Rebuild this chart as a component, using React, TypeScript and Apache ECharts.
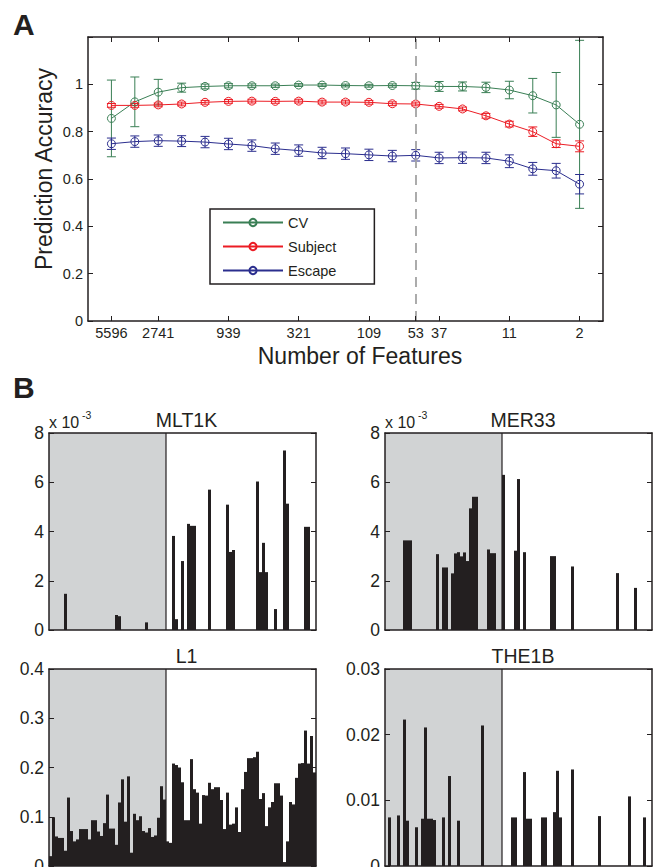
import React, { useEffect, useRef } from 'react';
import * as echarts from 'echarts';

// ---------- Panel A data ----------
const featureTickLabels = ['5596', '', '2741', '', '', '939', '', '', '321', '', '', '109', '', '53', '37', '', '', '11', '', '', '2'];
const cutoffLabel = '53';
const cvAcc = [0.856, 0.926, 0.967, 0.986, 0.991, 0.994, 0.994, 0.994, 0.997, 0.997, 0.995, 0.994, 0.995, 0.994, 0.991, 0.991, 0.987, 0.976, 0.952, 0.913, 0.831];
const cvErr = [0.162, 0.105, 0.054, 0.019, 0.010, 0.009, 0.008, 0.007, 0.006, 0.006, 0.006, 0.006, 0.007, 0.014, 0.021, 0.019, 0.022, 0.037, 0.073, 0.137, 0.355];
const subjectAcc = [0.911, 0.911, 0.913, 0.917, 0.924, 0.928, 0.929, 0.928, 0.929, 0.925, 0.925, 0.924, 0.918, 0.917, 0.907, 0.896, 0.867, 0.832, 0.800, 0.749, 0.738];
const subjectErr = [0.008, 0.008, 0.008, 0.008, 0.008, 0.008, 0.008, 0.008, 0.008, 0.008, 0.008, 0.008, 0.008, 0.008, 0.008, 0.008, 0.010, 0.012, 0.020, 0.016, 0.023];
const escapeAcc = [0.749, 0.758, 0.762, 0.760, 0.756, 0.748, 0.741, 0.728, 0.720, 0.710, 0.707, 0.702, 0.697, 0.700, 0.689, 0.690, 0.689, 0.675, 0.643, 0.635, 0.578];
const escapeErr = [0.024, 0.024, 0.024, 0.023, 0.024, 0.024, 0.024, 0.024, 0.024, 0.024, 0.024, 0.024, 0.024, 0.024, 0.024, 0.024, 0.024, 0.027, 0.027, 0.031, 0.041];

// ---------- Panel B data ----------
const barCount = 89;
const shadedCount = 39;
// [bar index, value x 10^-3]
const mlt1kBars: [number, number][] = [[5, 1.47], [22, 0.61], [23, 0.56], [32, 0.31], [41, 3.82], [42, 0.44], [44, 2.8], [46, 4.31], [47, 4.23], [48, 4.23], [53, 5.7], [59, 5.09], [60, 3.17], [61, 3.25], [69, 6.03], [70, 2.35], [71, 3.54], [72, 2.35], [75, 0.85], [78, 7.29], [79, 5.13], [85, 4.19], [86, 4.19]];
const mer33Bars: [number, number][] = [[6, 3.64], [7, 3.64], [8, 3.64], [17, 3.08], [19, 2.54], [20, 2.54], [22, 2.30], [23, 3.11], [24, 3.16], [25, 2.99], [26, 3.15], [27, 2.80], [28, 4.94], [29, 5.41], [30, 5.41], [34, 3.27], [35, 3.12], [36, 3.12], [39, 6.30], [43, 3.22], [44, 6.13], [46, 3.16], [55, 3.0], [56, 3.0], [62, 2.58], [77, 2.31], [83, 1.71]];
const l1Values = [0.020, 0.099, 0.060, 0.057, 0.057, 0.031, 0.139, 0.071, 0.050, 0.054, 0.075, 0.075, 0.075, 0.054, 0.093, 0.093, 0.070, 0.061, 0.087, 0.145, 0.076, 0.076, 0.043, 0.129, 0.176, 0.090, 0.182, 0.027, 0.106, 0.093, 0.101, 0.071, 0.068, 0.077, 0.059, 0.062, 0.098, 0.162, 0.135,
  0.050, 0.047, 0.208, 0.205, 0.200, 0.170, 0.093, 0.093, 0.217, 0.156, 0.149, 0.086, 0.144, 0.143, 0.169, 0.156, 0.160, 0.160, 0.134, 0.075, 0.149, 0.084, 0.086, 0.119, 0.069, 0.156, 0.191, 0.219, 0.219, 0.221, 0.232, 0.136, 0.148, 0.081, 0.119, 0.130, 0.168, 0.168, 0.143, 0.008, 0.050, 0.130, 0.125, 0.179, 0.208, 0.209, 0.275, 0.208, 0.264, 0.190];
const the1bBars: [number, number][] = [[1, 0.0074], [4, 0.0077], [6, 0.0223], [7, 0.0069], [10, 0.0059], [12, 0.0072], [13, 0.0211], [14, 0.0072], [15, 0.0072], [16, 0.0070], [19, 0.0074], [21, 0.0137], [24, 0.0069], [32, 0.0214], [42, 0.0074], [43, 0.0074], [46, 0.0143], [47, 0.0072], [48, 0.0072], [52, 0.0074], [53, 0.0074], [56, 0.0082], [57, 0.0145], [58, 0.0074], [62, 0.0147], [71, 0.0076], [81, 0.0106], [86, 0.0074]];

const INK = '#231f20';
const FONT = '"Liberation Sans", Arial, Helvetica, sans-serif';
const GREEN = '#3a7f55';
const RED = '#ec1c24';
const BLUE = '#2b2e8e';

function buildOption(): any {
  const xCats = ['', ...featureTickLabels, ''];
  const showCat = (_i: number, v: string) => v !== '';
  const axisLine = { show: true, onZero: false, lineStyle: { color: INK, width: 1.5 } };
  const tick = { show: true, inside: true, length: 5, lineStyle: { color: INK, width: 1 } };

  const panels = [
    { title: 'MLT1K', data: mlt1kBars, max: 8, interval: 2, exp: true, grid: { left: 49, top: 433 } },
    { title: 'MER33', data: mer33Bars, max: 8, interval: 2, exp: true, grid: { left: 385, top: 433 } },
    { title: 'L1', data: l1Values.map((v, i) => [i, v]), max: 0.4, interval: 0.1, exp: false, grid: { left: 49, top: 669 } },
    { title: 'THE1B', data: the1bBars, max: 0.03, interval: 0.01, exp: false, grid: { left: 385, top: 669 } },
  ];

  const grid: any[] = [{ left: 88, top: 37, width: 515, height: 284, containLabel: false, outerBoundsMode: 'none' }];
  const xAxis: any[] = [
    { gridIndex: 0, type: 'category', data: xCats, boundaryGap: false, position: 'bottom', axisLine, axisTick: { ...tick, interval: showCat }, axisLabel: { interval: showCat, fontSize: 14.5, color: INK, fontFamily: FONT, margin: 4 }, splitLine: { show: false }, z: 10 },
    { gridIndex: 0, type: 'category', data: xCats, boundaryGap: false, position: 'top', axisLine, axisTick: { ...tick, interval: showCat }, axisLabel: { show: false }, splitLine: { show: false }, z: 10 },
  ];
  const yAxis: any[] = [
    { gridIndex: 0, type: 'value', min: 0, max: 1.2, interval: 0.2, position: 'left', axisLine, axisTick: tick, axisLabel: { fontSize: 14.5, color: INK, fontFamily: FONT, margin: 5, formatter: (v: number) => (v > 1.0001 ? '' : String(Math.round(v * 10) / 10)) }, splitLine: { show: false }, z: 10 },
    { gridIndex: 0, type: 'value', min: 0, max: 1.2, interval: 0.2, position: 'right', axisLine, axisTick: tick, axisLabel: { show: false }, splitLine: { show: false }, z: 10 },
  ];

  const errSeries = (name: string, vals: number[], errs: number[], color: string) => ({
    type: 'custom', name: name + ' error', xAxisIndex: 0, yAxisIndex: 0, silent: true, z: 3,
    data: vals.map((v, k) => [k + 1, v - errs[k], v + errs[k]]),
    encode: { x: 0, y: [1, 2] },
    renderItem: (_p: any, api: any) => {
      const x = api.value(0);
      const lo = api.coord([x, api.value(1)]);
      const hi = api.coord([x, api.value(2)]);
      const w = 4.5;
      const style = { stroke: color, lineWidth: 1 };
      return {
        type: 'group', children: [
          { type: 'line', shape: { x1: lo[0], y1: lo[1], x2: hi[0], y2: hi[1] }, style },
          { type: 'line', shape: { x1: lo[0] - w, y1: lo[1], x2: lo[0] + w, y2: lo[1] }, style },
          { type: 'line', shape: { x1: hi[0] - w, y1: hi[1], x2: hi[0] + w, y2: hi[1] }, style },
        ],
      };
    },
  });
  const lineSeries = (name: string, vals: number[], color: string, extra: any = {}) => ({
    type: 'line', name, xAxisIndex: 0, yAxisIndex: 0, z: 4,
    data: vals.map((v, k) => [k + 1, v]),
    symbol: 'circle', symbolSize: 8, showSymbol: true,
    lineStyle: { color, width: 1 },
    itemStyle: { color: 'rgba(255,255,255,0)', borderColor: color, borderWidth: 1 },
    emphasis: { disabled: true },
    ...extra,
  });

  const series: any[] = [
    errSeries('CV', cvAcc, cvErr, GREEN),
    lineSeries('CV', cvAcc, GREEN, {
      markLine: {
        silent: true, symbol: ['none', 'none'], label: { show: false },
        lineStyle: { color: '#a3a3a3', type: [10, 7], width: 1.8 },
        data: [{ xAxis: featureTickLabels.indexOf(cutoffLabel) + 1 }],
      },
    }),
    errSeries('Subject', subjectAcc, subjectErr, RED),
    lineSeries('Subject', subjectAcc, RED),
    errSeries('Escape', escapeAcc, escapeErr, BLUE),
    lineSeries('Escape', escapeAcc, BLUE),
  ];

  const barCats = Array.from({ length: barCount }, (_v, i) => String(i + 1));
  const graphic: any[] = [];
  const txt = (text: string, x: number, y: number, fontSize: number, align = 'left', extra: any = {}) => ({
    type: 'text', x, y, silent: true, ...extra,
    style: { text, fontSize, fontFamily: FONT, fill: INK, align, verticalAlign: 'middle', textAlign: align, textVerticalAlign: 'middle', fontWeight: extra.bold ? 'bold' : 'normal' },
  });

  panels.forEach((p, i) => {
    const g = i + 1;
    grid.push({ left: p.grid.left, top: p.grid.top, width: 267, height: 197, containLabel: false, outerBoundsMode: 'none' });
    xAxis.push({ gridIndex: g, type: 'category', data: barCats, position: 'bottom', axisLine, axisTick: { show: false }, axisLabel: { show: false }, splitLine: { show: false }, z: 10 });
    xAxis.push({ gridIndex: g, type: 'category', data: barCats, position: 'top', axisLine, axisTick: { show: false }, axisLabel: { show: false }, splitLine: { show: false }, z: 10 });
    yAxis.push({ gridIndex: g, type: 'value', min: 0, max: p.max, interval: p.interval, position: 'left', axisLine, axisTick: tick, axisLabel: { fontSize: 17.5, color: INK, fontFamily: FONT, margin: 5 }, splitLine: { show: false }, z: 10 });
    yAxis.push({ gridIndex: g, type: 'value', min: 0, max: p.max, interval: p.interval, position: 'right', axisLine, axisTick: tick, axisLabel: { show: false }, splitLine: { show: false }, z: 10 });
    series.push({
      type: 'custom', xAxisIndex: 2 * g, yAxisIndex: 2 * g, silent: true, z: 1,
      data: [[0, 0, shadedCount - 1]],
      encode: { x: [0, 2], y: 1 },
      renderItem: (params: any, api: any) => {
        const bw = api.size([1, 0])[0];
        const x0 = api.coord([api.value(0), 0])[0] - bw / 2;
        const x1 = api.coord([api.value(2), 0])[0] + bw / 2;
        const cs = params.coordSys;
        return {
          type: 'group', children: [
            { type: 'rect', shape: { x: x0, y: cs.y, width: x1 - x0, height: cs.height }, style: { fill: '#d1d3d4' } },
            { type: 'line', shape: { x1, y1: cs.y, x2: x1, y2: cs.y + cs.height }, style: { stroke: INK, lineWidth: 1.2 } },
          ],
        };
      },
    });
    series.push({
      type: 'bar', name: p.title, xAxisIndex: 2 * g, yAxisIndex: 2 * g, silent: true, z: 2,
      data: p.data, barCategoryGap: '0%', barGap: '0%',
      itemStyle: { color: INK },
      emphasis: { disabled: true },
    });
    const cx = p.grid.left + 267 / 2 + (i % 2 === 0 ? 4 : 4.5);
    graphic.push(txt(p.title, cx, p.grid.top - 13, 19.5, 'center'));
    if (p.exp) {
      graphic.push(txt('x 10', p.grid.left, p.grid.top - 11, 16));
      graphic.push(txt('-3', p.grid.left + 33, p.grid.top - 18, 10.5));
    }
  });

  graphic.push(txt('A', 13, 24, 30, 'left', { bold: true }));
  graphic.push(txt('B', 13, 387, 30, 'left', { bold: true }));
  graphic.push(txt('Prediction Accuracy', 44, 169, 23, 'center', { rotation: Math.PI / 2 }));
  graphic.push(txt('Number of Features', 360, 356, 23, 'center'));

  return {
    animation: false,
    backgroundColor: '#fff',
    textStyle: { fontFamily: FONT },
    grid, xAxis, yAxis, series, graphic,
    legend: {
      data: ['CV', 'Subject', 'Escape'],
      orient: 'vertical', left: 210, top: 209,
      itemWidth: 60, itemHeight: 9, itemGap: 9,
      padding: [6, 38, 6, 12],
      borderColor: INK, borderWidth: 1.5, backgroundColor: '#fff',
      textStyle: { fontSize: 14.5, color: INK, fontFamily: FONT },
      selectedMode: false,
    },
  };
}

export default function App() {
  const ref = useRef<HTMLDivElement>(null);
  useEffect(() => {
    document.body.style.margin = '0';
    const chart = echarts.init(ref.current!, null, { renderer: 'svg' });
    chart.setOption(buildOption());
    return () => chart.dispose();
  }, []);
  return <div ref={ref} style={{ width: 657, height: 867 }} />;
}
